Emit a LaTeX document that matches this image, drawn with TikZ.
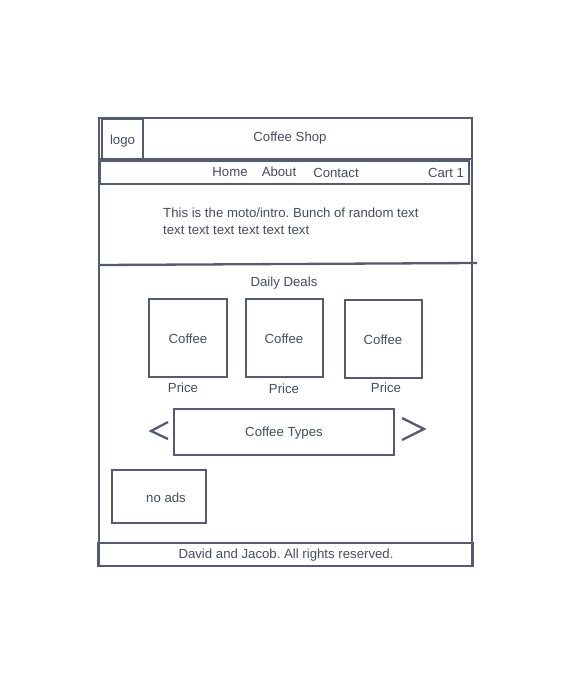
\documentclass[tikz,border=0pt]{standalone}
\usepackage{fontspec}
\setmainfont{Liberation Sans}
\frenchspacing
\definecolor{wf}{RGB}{86,92,112}
\definecolor{wftext}{RGB}{70,76,96}
\begin{document}
\begin{tikzpicture}[x=1pt,y=-1pt,
  box/.style={draw=wf,line width=2.3pt},
  lbl/.style={text=wftext,font=\fontsize{13.2}{16.5}\selectfont,inner sep=0pt,yshift=-1.2pt}]
\useasboundingbox (0,0) rectangle (575,683);
% outer frame
\draw[box] (99,118) rectangle (472,566);
\coordinate (hl) at (99,159);
\coordinate (hr) at (472,159);
\draw[box] (hl) -- (hr);
% logo
\draw[box] (102,119) rectangle (143,159);
\node[lbl] (logo) at (122.5,140) {logo};
\node[lbl] (title) at (290,137) {Coffee Shop};
% nav
\draw[box] (100,161) rectangle (469,184);
\node[lbl] (home) at (230,171) {Home};
\node[lbl] (about) at (279,171) {About};
\node[lbl] (contact) at (336,172) {Contact};
\node[lbl] (cart) at (446,172) {Cart 1};
% intro
\node[lbl,align=left,anchor=west] (intro) at (163,220) {This is the moto/intro. Bunch of random text\\text text text text text text};
\coordinate (il) at (99,265);
\coordinate (ir) at (477,263);
\draw[box] (il) -- (ir);
% daily deals
\node[lbl] (deals) at (284,282) {Daily Deals};
\draw[box] (149,299) rectangle (227,377);
\draw[box] (246,299) rectangle (323,377);
\draw[box] (345,300) rectangle (422,378);
\node[lbl] (c1) at (188,338) {Coffee};
\node[lbl] (c2) at (284,338) {Coffee};
\node[lbl] (c3) at (383,339) {Coffee};
\node[lbl] (p1) at (183,387) {Price};
\node[lbl] (p2) at (284,388) {Price};
\node[lbl] (p3) at (386,387) {Price};
% carousel
\draw[box] (174,409) rectangle (394,455);
\node[lbl] (types) at (284,432) {Coffee Types};
\coordinate (la) at (168,422);
\coordinate (lb) at (151,431);
\coordinate (lc) at (168,439);
\draw[wf,line width=2.3pt] (la) -- (lb) -- (lc);
\coordinate (ra) at (402,418);
\coordinate (rb) at (424,429);
\coordinate (rc) at (402,440);
\draw[wf,line width=2.3pt] (ra) -- (rb) -- (rc);
% ads
\draw[box] (112,470) rectangle (206,523);
\node[lbl] (ads) at (166,497) {no ads};
% footer
\draw[box] (98,543) rectangle (473,566);
\node[lbl] (footer) at (286,554) {David and Jacob. All rights reserved.};
\end{tikzpicture}
\end{document}
